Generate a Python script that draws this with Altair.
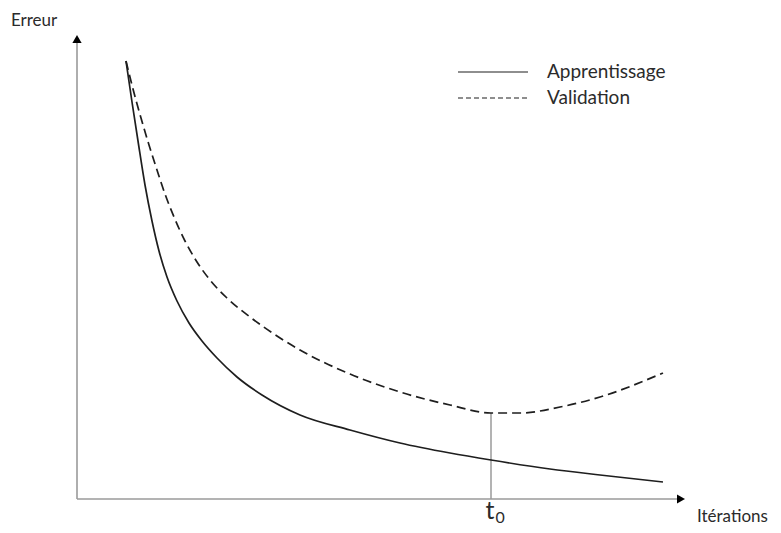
import altair as alt
import pandas as pd

# Data (x: itérations, y: erreur, arbitrary units)
train_x = [49, 55, 61, 68, 75, 82, 90, 100, 112, 125, 140, 160, 185, 223, 273, 323, 373, 414, 473, 523, 586]
train_y = [438, 397, 358, 314, 278, 248, 222, 198, 176, 158, 141, 122, 104, 84, 69, 56, 46, 39, 30, 24, 17]
val_x = [49, 56, 64, 72, 80, 88, 97, 108, 120, 133, 150, 173, 200, 223, 273, 323, 373, 414, 443, 483, 523, 586]
val_y = [438, 410, 381, 354, 329, 305, 282, 258, 237, 219, 201, 182, 163, 149, 125, 107, 94, 86, 86, 92, 102, 126]
t0_x = 414
t0_top = 86
legend_labels = ["Apprentissage", "Validation"]
legend_y = [427, 401]
legend_x0, legend_x1, legend_text_x = 381, 451, 470

FONT = "Lato"
TXT = "#2b2b2b"
AX = "#9a9a9a"
INK = "#1e1e1e"

xs = alt.Scale(domain=[0, 608], nice=False, zero=False)
ys = alt.Scale(domain=[0, 465], nice=False, zero=False)


def X(f="x"):
    return alt.X(f"{f}:Q", scale=xs, axis=None)


def Y(f="y"):
    return alt.Y(f"{f}:Q", scale=ys, axis=None)


train = pd.DataFrame({"x": train_x, "y": train_y})
val = pd.DataFrame({"x": val_x, "y": val_y})

# axes
axes_df = pd.DataFrame({"x": [0, 0], "y": [0, 0], "x2": [601, 0], "y2": [0, 457]})
axes = alt.Chart(axes_df).mark_rule(color=AX, strokeWidth=1.6).encode(
    x=X(), y=Y(), x2="x2:Q", y2="y2:Q")

arrow_x = alt.Chart(pd.DataFrame({"x": [604], "y": [0]})).mark_point(
    shape="triangle-right", filled=True, color="black", size=85, opacity=1).encode(x=X(), y=Y())
arrow_y = alt.Chart(pd.DataFrame({"x": [0], "y": [460]})).mark_point(
    shape="triangle-up", filled=True, color="black", size=85, opacity=1).encode(x=X(), y=Y())

# t0 marker
t0_df = pd.DataFrame({"x": [t0_x], "y": [0], "y2": [t0_top]})
t0_rule = alt.Chart(t0_df).mark_rule(color=AX, strokeWidth=1.5).encode(x=X(), y=Y(), y2="y2:Q")

line_train = alt.Chart(train).mark_line(color=INK, strokeWidth=1.7, interpolate="monotone").encode(
    x=X(), y=Y())
line_val = alt.Chart(val).mark_line(color=INK, strokeWidth=1.7, interpolate="monotone",
                                    strokeDash=[9, 5]).encode(x=X(), y=Y())

# legend
leg_solid = alt.Chart(pd.DataFrame({"x": [legend_x0], "x2": [legend_x1], "y": [legend_y[0]]})).mark_rule(
    color=INK, strokeWidth=1.2).encode(x=X(), x2="x2:Q", y=Y())
leg_dash = alt.Chart(pd.DataFrame({"x": [legend_x0], "x2": [legend_x1], "y": [legend_y[1]]})).mark_rule(
    color=INK, strokeWidth=1.2, strokeDash=[5, 3]).encode(x=X(), x2="x2:Q", y=Y())
leg_text = alt.Chart(pd.DataFrame({"x": [legend_text_x] * 2, "y": legend_y, "t": legend_labels})).mark_text(
    align="left", baseline="middle", font=FONT, fontSize=19, color=TXT).encode(x=X(), y=Y(), text="t:N")

# axis titles
erreur = alt.Chart(pd.DataFrame({"x": [-66], "y": [473], "t": ["Erreur"]})).mark_text(
    align="left", baseline="alphabetic", font=FONT, fontSize=17, color=TXT).encode(x=X(), y=Y(), text="t:N")
iter_lab = alt.Chart(pd.DataFrame({"x": [620], "y": [-23], "t": ["Itérations"]})).mark_text(
    align="left", baseline="alphabetic", font=FONT, fontSize=17, color=TXT).encode(x=X(), y=Y(), text="t:N")

t_txt = alt.Chart(pd.DataFrame({"x": [413], "y": [-20], "t": ["t"]})).mark_text(
    align="center", baseline="alphabetic", font=FONT, fontSize=25, color=TXT).encode(x=X(), y=Y(), text="t:N")
t_sub = alt.Chart(pd.DataFrame({"x": [418.5], "y": [-24], "t": ["0"]})).mark_text(
    align="left", baseline="alphabetic", font=FONT, fontSize=16, color=TXT).encode(x=X(), y=Y(), text="t:N")

chart = alt.layer(axes, t0_rule, line_val, line_train, arrow_x, arrow_y, leg_solid, leg_dash, leg_text,
                  erreur, iter_lab, t_txt, t_sub).properties(
    width=608, height=465,
    autosize=alt.AutoSizeParams(type="none"),
    padding={"left": 69, "top": 26, "right": 88, "bottom": 26},
).configure_view(stroke=None)

chart.save("out.html", embed_options={"renderer": "svg", "actions": False})
